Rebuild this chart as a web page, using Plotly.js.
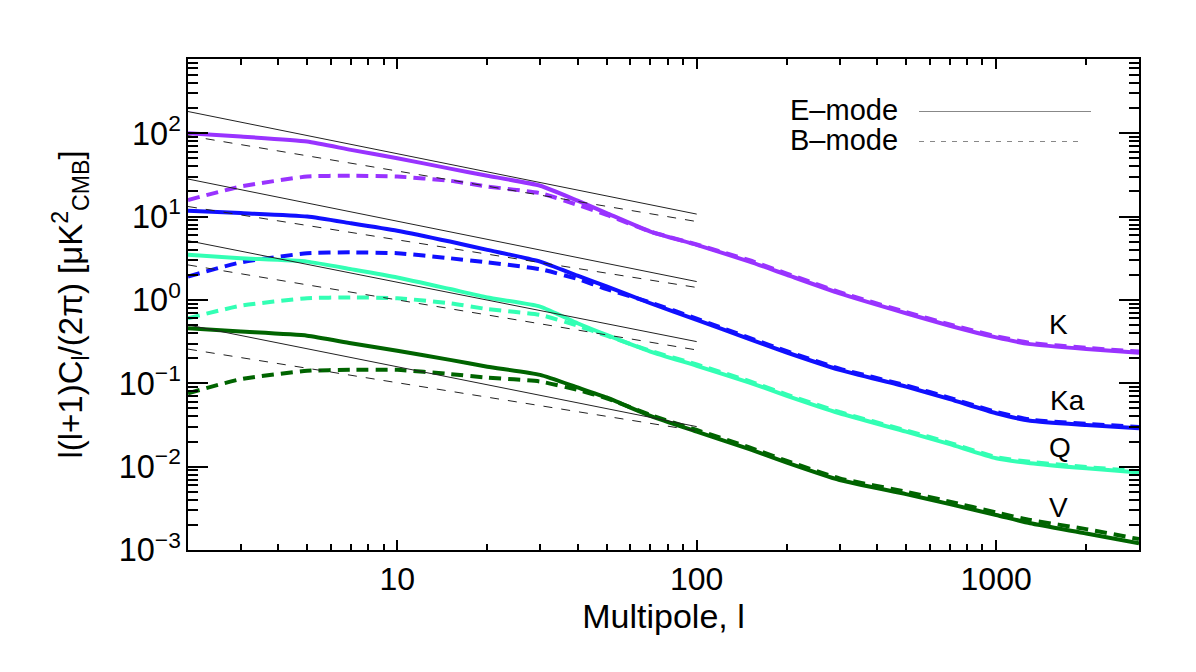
<!DOCTYPE html>
<html>
<head>
<meta charset="utf-8">
<script src="https://cdn.plot.ly/plotly-3.0.1.min.js"></script>
<style>html,body{margin:0;padding:0;background:#fff;}#chart{width:1196px;height:672px;}</style>
</head>
<body>
<div id="chart"></div>
<script>
// Multipoles at which the curves were read
const ell = [2, 3, 5, 7, 10, 15, 20, 30, 40, 50, 70, 100, 150, 200, 300, 500, 700, 1000, 1300, 2000, 3000];

// K band
const K_E = [100, 91.2, 79.4, 63.1, 50.1, 37.6, 30.9, 23.4, 15.5, 11.0, 6.61, 4.57, 2.88, 2.00, 1.20, 0.692, 0.490, 0.355, 0.295, 0.257, 0.232];
const K_B = [15.8, 22.9, 30.2, 30.9, 30.2, 26.9, 22.9, 19.1, 13.8, 10.5, 6.61, 4.62, 2.99, 2.07, 1.24, 0.716, 0.507, 0.367, 0.305, 0.266, 0.240];
// Ka band
const Ka_E = [11.7, 11.0, 10.0, 8.32, 6.76, 5.01, 3.98, 2.88, 1.95, 1.45, 0.912, 0.575, 0.339, 0.234, 0.145, 0.0912, 0.0646, 0.0437, 0.0355, 0.0316, 0.0288];
const Ka_B = [1.91, 2.82, 3.63, 3.72, 3.63, 3.16, 2.82, 2.34, 1.78, 1.35, 0.933, 0.596, 0.351, 0.243, 0.150, 0.0944, 0.0668, 0.0452, 0.0367, 0.0327, 0.0299];
// Q band
const Q_E = [3.47, 3.16, 2.88, 2.34, 1.86, 1.35, 1.07, 0.832, 0.525, 0.380, 0.240, 0.162, 0.102, 0.0708, 0.0437, 0.0263, 0.0186, 0.0126, 0.0110, 0.00955, 0.00851];
const Q_B = [0.603, 0.851, 1.047, 1.072, 1.047, 0.912, 0.776, 0.661, 0.490, 0.372, 0.245, 0.168, 0.106, 0.0733, 0.0452, 0.0272, 0.0193, 0.0130, 0.0114, 0.00989, 0.00881];
// V band
const V_E = [0.457, 0.417, 0.372, 0.302, 0.245, 0.191, 0.158, 0.126, 0.0891, 0.0676, 0.0407, 0.0263, 0.0162, 0.0112, 0.00692, 0.00468, 0.00355, 0.00263, 0.00209, 0.00158, 0.00120];
const V_B = [0.0759, 0.112, 0.141, 0.145, 0.145, 0.129, 0.117, 0.105, 0.0832, 0.0661, 0.0417, 0.0275, 0.0170, 0.0117, 0.00724, 0.00501, 0.00380, 0.00282, 0.00229, 0.00178, 0.00135];

// Power-law fits (thin black lines), evaluated at the two ends
const fit_ell = [2, 100];
const K_Efit = [182, 10.7];
const K_Bfit = [93.3, 8.71];
const Ka_Efit = [28.2, 1.66];
const Ka_Bfit = [13.2, 1.41];
const Q_Efit = [5.13, 0.316];
const Q_Bfit = [2.63, 0.251];
const V_Efit = [0.501, 0.0302];
const V_Bfit = [0.257, 0.0269];

const bandNames = ['K', 'Ka', 'Q', 'V'];
const modeNames = ['E\u2013mode', 'B\u2013mode'];

const FONT = 'Liberation Sans, Arial, Helvetica, sans-serif';
const colors = {K: '#9933ff', Ka: '#1010ff', Q: '#33ffb4', V: '#006400'};

const bands = [
  {name: 'K', E: K_E, B: K_B, Ef: K_Efit, Bf: K_Bfit},
  {name: 'Ka', E: Ka_E, B: Ka_B, Ef: Ka_Efit, Bf: Ka_Bfit},
  {name: 'Q', E: Q_E, B: Q_B, Ef: Q_Efit, Bf: Q_Bfit},
  {name: 'V', E: V_E, B: V_B, Ef: V_Efit, Bf: V_Bfit}
];

const traces = [];
bands.forEach(b => {
  traces.push({x: ell, y: b.E, mode: 'lines', name: b.name + ' E-mode', showlegend: false,
    line: {color: colors[b.name], width: 4, shape: 'spline', smoothing: 0.5}});
  traces.push({x: ell, y: b.B, mode: 'lines', name: b.name + ' B-mode', showlegend: false,
    line: {color: colors[b.name], width: 4, dash: '12px,7px', shape: 'spline', smoothing: 0.5}});
});
bands.forEach(b => {
  traces.push({x: fit_ell, y: b.Ef, mode: 'lines', name: b.name + ' E fit', showlegend: false,
    line: {color: '#222', width: 1}});
  traces.push({x: fit_ell, y: b.Bf, mode: 'lines', name: b.name + ' B fit', showlegend: false,
    line: {color: '#222', width: 1, dash: '9px,9px'}});
});

const L = 188, R = 1139, T = 59, B = 550;
const px = x => (x - L) / (R - L);
const py = y => (B - y) / (B - T);

const bandLabelPos = {K: [1058, 325], Ka: [1067, 400], Q: [1060, 447], V: [1058, 507]};
const annotations = bandNames.map(n => ({
  text: n, xref: 'paper', yref: 'paper', x: px(bandLabelPos[n][0]), y: py(bandLabelPos[n][1]),
  xanchor: 'center', yanchor: 'middle', showarrow: false, font: {family: FONT, size: 28, color: '#000'}
}));
annotations.push({text: modeNames[0], xref: 'paper', yref: 'paper', x: px(788), y: py(110), xanchor: 'left', yanchor: 'middle',
  showarrow: false, font: {family: FONT, size: 29, color: '#000'}});
annotations.push({text: modeNames[1], xref: 'paper', yref: 'paper', x: px(788), y: py(140), xanchor: 'left', yanchor: 'middle',
  showarrow: false, font: {family: FONT, size: 29, color: '#000'}});

const shapes = [
  {type: 'line', xref: 'paper', yref: 'paper', x0: px(919), x1: px(1091), y0: py(111.5), y1: py(111.5), line: {color: '#888', width: 1}},
  {type: 'line', xref: 'paper', yref: 'paper', x0: px(919), x1: px(1082), y0: py(141.5), y1: py(141.5), line: {color: '#888', width: 1, dash: '5px,6px'}}
];

const layout = {
  width: 1196, height: 672,
  margin: {l: L, r: 1196 - R, t: T, b: 672 - B},
  paper_bgcolor: '#fff', plot_bgcolor: '#fff',
  showlegend: false,
  font: {family: FONT, color: '#000'},
  xaxis: {
    type: 'log', range: [Math.log10(2), Math.log10(3000)],
    tickmode: 'linear', tick0: 0, dtick: 1, exponentformat: 'none',
    ticks: 'inside', ticklen: 10, tickwidth: 2, tickcolor: '#000',
    minor: {ticks: 'inside', ticklen: 6, tickwidth: 1.5, tickcolor: '#000', dtick: 'D1', showgrid: false},
    showline: true, linewidth: 2, linecolor: '#000', mirror: 'ticks',
    showgrid: false, zeroline: false,
    tickfont: {family: FONT, size: 32, color: '#000'},
    title: {text: 'Multipole, l', font: {family: FONT, size: 34, color: '#000'}, standoff: 8}
  },
  yaxis: {
    type: 'log', range: [-3, 2.89],
    tickmode: 'linear', tick0: 0, dtick: 1, exponentformat: 'power',
    labelalias: {'1': '10<sup>0</sup>', '10': '10<sup>1</sup>'},
    ticks: 'inside', ticklen: 20, tickwidth: 2, tickcolor: '#000',
    minor: {ticks: 'inside', ticklen: 10, tickwidth: 1.5, tickcolor: '#000', dtick: 'D1', showgrid: false},
    showline: true, linewidth: 2, linecolor: '#000', mirror: 'ticks',
    showgrid: false, zeroline: false,
    tickfont: {family: FONT, size: 26, color: '#000'},
    title: {text: 'l(l+1)C<sub>l</sub>/(2\u03c0) [\u03bcK<sup>2</sup><sub>CMB</sub>]', font: {family: FONT, size: 33, color: '#000'}, standoff: 26}
  },
  annotations: annotations,
  shapes: shapes
};

Plotly.newPlot('chart', traces, layout, {displayModeBar: false});
</script>
</body>
</html>
